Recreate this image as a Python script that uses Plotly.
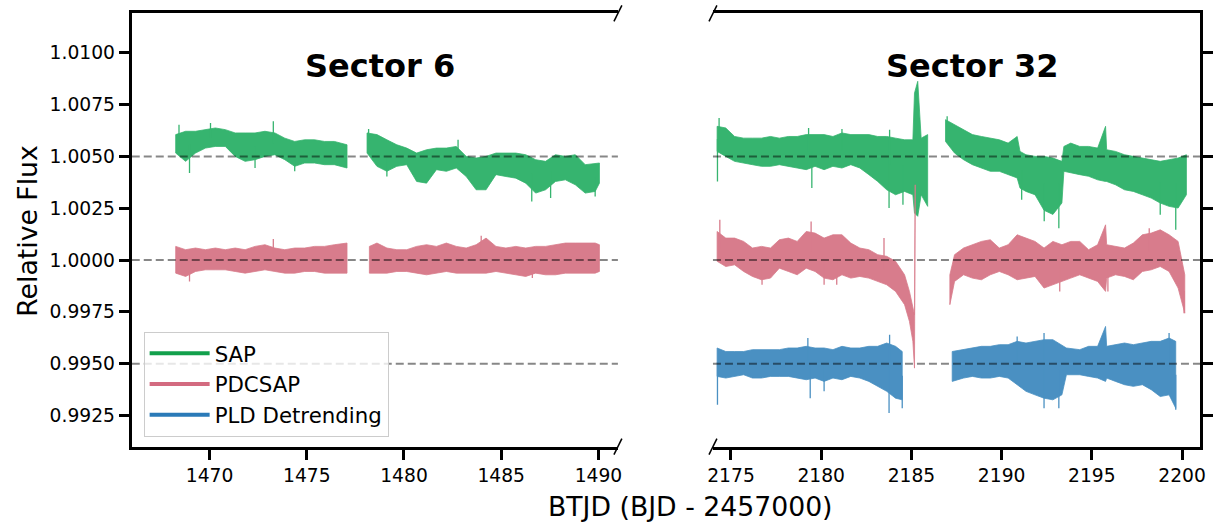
import numpy as np
import plotly.graph_objects as go

# ---------------- data ----------------
# Sector 6, first orbit  (envelope of the light curves)
t_s6_a = [1468.26, 1468.77, 1469.28, 1469.79, 1470.30, 1470.81, 1471.32, 1471.83, 1472.34,
          1472.85, 1473.36, 1473.87, 1474.38, 1474.89, 1475.40, 1475.91, 1476.42, 1477.07]
sap_s6_a_hi = [1.00605, 1.00621, 1.00621, 1.00629, 1.00637, 1.00629, 1.00613, 1.00613, 1.00613,
               1.00621, 1.00613, 1.00588, 1.00572, 1.00580, 1.00580, 1.00572, 1.00572, 1.00556]
sap_s6_a_lo = [1.00516, 1.00476, 1.00516, 1.00540, 1.00548, 1.00548, 1.00500, 1.00476, 1.00484,
               1.00500, 1.00508, 1.00484, 1.00452, 1.00468, 1.00468, 1.00460, 1.00460, 1.00444]
pdc_s6_a_hi = [1.00066, 1.00050, 1.00058, 1.00050, 1.00058, 1.00050, 1.00058, 1.00050, 1.00066,
               1.00074, 1.00058, 1.00050, 1.00058, 1.00058, 1.00066, 1.00066, 1.00074, 1.00082]
pdc_s6_a_lo = [0.99937, 0.99921, 0.99945, 0.99953, 0.99953, 0.99953, 0.99945, 0.99937, 0.99945,
               0.99953, 0.99945, 0.99937, 0.99937, 0.99945, 0.99945, 0.99937, 0.99937, 0.99937]

# Sector 6, second orbit
t_s6_b = [1478.10, 1478.61, 1479.12, 1479.63, 1480.14, 1480.65, 1481.16, 1481.67, 1482.18,
          1482.69, 1483.20, 1483.71, 1484.22, 1484.73, 1485.24, 1485.75, 1486.26, 1486.77,
          1487.28, 1487.79, 1488.30, 1488.81, 1489.32, 1489.83, 1490.05]
sap_s6_b_hi = [1.00613, 1.00605, 1.00580, 1.00556, 1.00540, 1.00516, 1.00532, 1.00540, 1.00540,
               1.00548, 1.00500, 1.00492, 1.00500, 1.00516, 1.00516, 1.00516, 1.00508, 1.00484,
               1.00476, 1.00508, 1.00500, 1.00508, 1.00460, 1.00468, 1.00468]
sap_s6_b_lo = [1.00516, 1.00452, 1.00428, 1.00452, 1.00460, 1.00379, 1.00371, 1.00436, 1.00428,
               1.00444, 1.00403, 1.00339, 1.00339, 1.00412, 1.00403, 1.00395, 1.00371, 1.00323,
               1.00339, 1.00379, 1.00387, 1.00363, 1.00323, 1.00331, 1.00371]
t_s6_b_pdc = [1478.22] + t_s6_b[1:]
pdc_s6_b_hi = [1.00066, 1.00082, 1.00058, 1.00050, 1.00050, 1.00066, 1.00074, 1.00066, 1.00082,
               1.00066, 1.00058, 1.00074, 1.00106, 1.00066, 1.00058, 1.00066, 1.00058, 1.00066,
               1.00066, 1.00074, 1.00082, 1.00082, 1.00082, 1.00082, 1.00074]
pdc_s6_b_lo = [0.99937, 0.99937, 0.99937, 0.99945, 0.99945, 0.99937, 0.99929, 0.99937, 0.99945,
               0.99937, 0.99937, 0.99937, 0.99937, 0.99945, 0.99937, 0.99929, 0.99921, 0.99937,
               0.99929, 0.99929, 0.99937, 0.99937, 0.99937, 0.99937, 0.99945]

# Sector 32, first orbit
t_s32_a = [2174.23, 2174.71, 2175.20, 2175.70, 2176.19, 2176.69, 2177.19, 2177.68, 2178.18,
           2178.67, 2179.17, 2179.66, 2180.16, 2180.65, 2181.15, 2181.64, 2182.14, 2182.64,
           2183.13, 2183.63, 2184.12, 2184.62, 2185.08, 2185.17, 2185.35, 2185.54, 2185.90]
sap_s32_a_hi = [1.00645, 1.00637, 1.00596, 1.00588, 1.00588, 1.00588, 1.00596, 1.00588, 1.00596,
                1.00596, 1.00605, 1.00605, 1.00605, 1.00596, 1.00613, 1.00605, 1.00605, 1.00605,
                1.00596, 1.00596, 1.00588, 1.00580, 1.00580, 1.00805, 1.00862, 1.00588, 1.00605]
sap_s32_a_lo = [1.00524, 1.00500, 1.00476, 1.00468, 1.00460, 1.00452, 1.00452, 1.00460, 1.00452,
                1.00444, 1.00436, 1.00452, 1.00436, 1.00452, 1.00444, 1.00460, 1.00444, 1.00412,
                1.00379, 1.00339, 1.00315, 1.00331, 1.00315, 1.00227, 1.00211, 1.00315, 1.00259]
t_s32_a_pdc = t_s32_a[:22] + [2184.89, 2185.08, 2185.17, 2185.21]
pdc_s32_a_hi = [1.00138, 1.00106, 1.00106, 1.00090, 1.00058, 1.00066, 1.00058, 1.00098, 1.00106,
                1.00090, 1.00138, 1.00130, 1.00106, 1.00122, 1.00122, 1.00082, 1.00058, 1.00050,
                1.00026, 1.00018, 0.99994, 0.99929, 0.99849, 0.99768, 0.99736, 1.00363]
pdc_s32_a_lo = [0.99994, 0.99969, 0.99977, 0.99945, 0.99921, 0.99905, 0.99913, 0.99961, 0.99945,
                0.99929, 0.99961, 0.99945, 0.99913, 0.99905, 0.99929, 0.99913, 0.99921, 0.99913,
                0.99897, 0.99881, 0.99849, 0.99785, 0.99704, 0.99608, 0.99479, 0.99511]
t_s32_a_pld = t_s32_a[:21] + [2184.49]
pld_s32_a_hi = [0.99576, 0.99559, 0.99559, 0.99559, 0.99568, 0.99568, 0.99568, 0.99568, 0.99576,
                0.99576, 0.99584, 0.99576, 0.99576, 0.99568, 0.99584, 0.99576, 0.99576, 0.99584,
                0.99584, 0.99600, 0.99584, 0.99559]
pld_s32_a_lo = [0.99439, 0.99431, 0.99439, 0.99447, 0.99431, 0.99431, 0.99439, 0.99439, 0.99439,
                0.99431, 0.99423, 0.99431, 0.99415, 0.99431, 0.99423, 0.99439, 0.99431, 0.99415,
                0.99391, 0.99367, 0.99334, 0.99326]

# Sector 32, second orbit
t_s32_b = [2186.89, 2187.39, 2187.89, 2188.38, 2188.88, 2189.37, 2189.87, 2190.36, 2190.86,
           2191.02, 2191.35, 2191.85, 2192.35, 2192.84, 2193.34, 2193.45, 2193.83, 2194.33,
           2194.82, 2195.32, 2195.76, 2195.82, 2196.31, 2196.81, 2197.30, 2197.80, 2198.29,
           2198.79, 2199.28, 2199.78, 2200.24]
sap_s32_b_hi = [1.00677, 1.00653, 1.00629, 1.00605, 1.00596, 1.00588, 1.00580, 1.00564, 1.00596,
                1.00524, 1.00508, 1.00500, 1.00500, 1.00492, 1.00476, 1.00548, 1.00564, 1.00548,
                1.00548, 1.00540, 1.00645, 1.00532, 1.00524, 1.00508, 1.00500, 1.00492, 1.00484,
                1.00476, 1.00484, 1.00492, 1.00508]
sap_s32_b_lo = [1.00572, 1.00516, 1.00484, 1.00460, 1.00444, 1.00428, 1.00428, 1.00412, 1.00396,
                1.00347, 1.00331, 1.00315, 1.00240, 1.00220, 1.00275, 1.00428, 1.00420, 1.00412,
                1.00404, 1.00387, 1.00379, 1.00379, 1.00363, 1.00339, 1.00331, 1.00315, 1.00299,
                1.00275, 1.00259, 1.00251, 1.00315]
t_s32_b_pdc = [2187.13, 2187.39, 2187.89, 2188.38, 2188.88, 2189.37, 2189.87, 2190.36, 2190.86,
               2191.35, 2191.85, 2192.35, 2192.84, 2193.34, 2193.83, 2194.33, 2194.82, 2195.32,
               2195.76, 2195.82, 2196.31, 2196.81, 2197.30, 2197.80, 2198.29, 2198.79, 2199.28,
               2199.78, 2200.15]
pdc_s32_b_hi = [0.99929, 1.00026, 1.00058, 1.00074, 1.00090, 1.00098, 1.00058, 1.00074, 1.00122,
                1.00106, 1.00090, 1.00058, 1.00090, 1.00074, 1.00090, 1.00090, 1.00050, 1.00074,
                1.00170, 1.00074, 1.00066, 1.00058, 1.00082, 1.00122, 1.00130, 1.00146, 1.00122,
                1.00090, 0.99929]
pdc_s32_b_lo = [0.99785, 0.99897, 0.99929, 0.99913, 0.99905, 0.99929, 0.99945, 0.99929, 0.99905,
                0.99913, 0.99921, 0.99865, 0.99881, 0.99897, 0.99913, 0.99929, 0.99913, 0.99897,
                0.99849, 0.99913, 0.99929, 0.99921, 0.99905, 0.99945, 0.99953, 0.99969, 0.99945,
                0.99865, 0.99744]
t_s32_b_pld = [2187.26, 2187.89, 2188.38, 2188.88, 2189.37, 2189.87, 2190.36, 2190.86, 2191.35,
               2191.85, 2192.35, 2192.84, 2193.34, 2193.59, 2194.33, 2194.82, 2195.32, 2195.76,
               2195.82, 2196.31, 2196.81, 2197.30, 2197.80, 2198.29, 2198.79, 2199.28, 2199.65]
pld_s32_b_hi = [0.99559, 0.99568, 0.99576, 0.99584, 0.99584, 0.99592, 0.99592, 0.99608, 0.99600,
                0.99608, 0.99616, 0.99616, 0.99592, 0.99576, 0.99568, 0.99584, 0.99584, 0.99680,
                0.99584, 0.99592, 0.99600, 0.99592, 0.99600, 0.99608, 0.99608, 0.99624, 0.99608]
pld_s32_b_lo = [0.99415, 0.99431, 0.99439, 0.99431, 0.99431, 0.99439, 0.99431, 0.99399, 0.99367,
                0.99350, 0.99334, 0.99326, 0.99350, 0.99447, 0.99447, 0.99439, 0.99431, 0.99415,
                0.99431, 0.99415, 0.99399, 0.99391, 0.99399, 0.99375, 0.99342, 0.99350, 0.99286]

# isolated outlier spikes (time, flux)
sap_s6_spk_t = [1468.43, 1470.05, 1473.28, 1468.97, 1472.34, 1474.38,
                1478.18, 1482.78, 1479.12, 1486.57, 1487.54, 1489.83]
sap_s6_spk_f = [1.00653, 1.00661, 1.00669, 1.00420, 1.00444, 1.00428,
                1.00632, 1.00580, 1.00403, 1.00283, 1.00299, 1.00307]
pdc_s6_spk_t = [1473.28, 1468.97, 1483.97, 1486.60]
pdc_s6_spk_f = [1.00101, 0.99897, 1.00117, 0.99913]
sap_s32_spk_t = [2174.34, 2179.30, 2181.15, 2183.79, 2174.25, 2179.48, 2183.76, 2184.53,
                 2186.98, 2191.11, 2192.36, 2193.17, 2198.79, 2199.65]
sap_s32_spk_f = [1.00685, 1.00637, 1.00632, 1.00629, 1.00379, 1.00347, 1.00251, 1.00267,
                 1.00693, 1.00291, 1.00187, 1.00154, 1.00219, 1.00146]
pdc_s32_spk_t = [2174.38, 2179.44, 2183.48, 2176.72, 2180.16, 2180.86,
                 2198.18, 2193.22, 2195.89, 2200.11]
pdc_s32_spk_f = [1.00195, 1.00186, 1.00106, 0.99881, 0.99881, 0.99881,
                 1.00154, 0.99849, 0.99849, 0.99744]
pld_s32_spk_t = [2179.26, 2183.79, 2174.25, 2179.39, 2180.16, 2183.76, 2184.49,
                 2190.86, 2192.35, 2199.28, 2192.35, 2193.17, 2199.65]
pld_s32_spk_f = [0.99624, 0.99640, 0.99302, 0.99334, 0.99367, 0.99262, 0.99286,
                 0.99632, 0.99648, 0.99648, 0.99286, 0.99286, 0.99278]

ytick_vals = [0.9925, 0.9950, 0.9975, 1.0000, 1.0025, 1.0050, 1.0075, 1.0100]
ytick_text = ["0.9925", "0.9950", "0.9975", "1.0000", "1.0025", "1.0050", "1.0075", "1.0100"]
xtick_s6 = [1470, 1475, 1480, 1485, 1490]
xtick_s32 = [2175, 2180, 2185, 2190, 2195, 2200]
ref_levels = [1.005, 1.000, 0.995]
series_names = ["SAP", "PDCSAP", "PLD Detrending"]

# ---------------- style ----------------
W, H = 1217, 525
FONT = "DejaVu Sans"
legend_colors = {"SAP": "#12a04c", "PDCSAP": "#d36b80", "PLD Detrending": "#2a7ab8"}
fill_colors = {"SAP": "#36b46f", "PDCSAP": "#d87c8c", "PLD Detrending": "#4a90c2"}


def px_x(x):
    return x / W


def px_y(y):
    return 1 - y / H


XL = (127, 618)
XR = (714, 1206)
YT, YB = 13.3, 446.7

fig = go.Figure()


def band(t, hi, lo, name, xa, ya):
    xs = list(t) + list(t)[::-1] + [t[0]]
    ys = list(hi) + list(lo)[::-1] + [hi[0]]
    fig.add_trace(go.Scatter(
        x=xs, y=ys, mode="lines", fill="toself",
        fillcolor=fill_colors[name],
        line=dict(color=fill_colors[name], width=0.8),
        xaxis=xa, yaxis=ya, showlegend=False, hoverinfo="skip"))


def spikes(st, sf, segments, name, xa, ya):
    """thin vertical outlier lines from the band middle out to the read flux."""
    xs, ys = [], []
    for tt, ff in zip(st, sf):
        for (t, hi, lo) in segments:
            if t[0] - 0.05 <= tt <= t[-1] + 0.05:
                mid = 0.5 * (np.interp(tt, t, hi) + np.interp(tt, t, lo))
                xs += [tt, tt, None]
                ys += [mid, ff, None]
                break
    fig.add_trace(go.Scatter(x=xs, y=ys, mode="lines",
                             line=dict(color=fill_colors[name], width=1.3),
                             xaxis=xa, yaxis=ya, showlegend=False, hoverinfo="skip"))


band(t_s6_a, sap_s6_a_hi, sap_s6_a_lo, "SAP", "x", "y")
band(t_s6_b, sap_s6_b_hi, sap_s6_b_lo, "SAP", "x", "y")
band(t_s6_a, pdc_s6_a_hi, pdc_s6_a_lo, "PDCSAP", "x", "y")
band(t_s6_b_pdc, pdc_s6_b_hi, pdc_s6_b_lo, "PDCSAP", "x", "y")
spikes(sap_s6_spk_t, sap_s6_spk_f,
       [(t_s6_a, sap_s6_a_hi, sap_s6_a_lo), (t_s6_b, sap_s6_b_hi, sap_s6_b_lo)], "SAP", "x", "y")
spikes(pdc_s6_spk_t, pdc_s6_spk_f,
       [(t_s6_a, pdc_s6_a_hi, pdc_s6_a_lo), (t_s6_b_pdc, pdc_s6_b_hi, pdc_s6_b_lo)],
       "PDCSAP", "x", "y")

band(t_s32_a, sap_s32_a_hi, sap_s32_a_lo, "SAP", "x2", "y2")
band(t_s32_b, sap_s32_b_hi, sap_s32_b_lo, "SAP", "x2", "y2")
band(t_s32_a_pdc, pdc_s32_a_hi, pdc_s32_a_lo, "PDCSAP", "x2", "y2")
band(t_s32_b_pdc, pdc_s32_b_hi, pdc_s32_b_lo, "PDCSAP", "x2", "y2")
band(t_s32_a_pld, pld_s32_a_hi, pld_s32_a_lo, "PLD Detrending", "x2", "y2")
band(t_s32_b_pld, pld_s32_b_hi, pld_s32_b_lo, "PLD Detrending", "x2", "y2")
spikes(sap_s32_spk_t, sap_s32_spk_f,
       [(t_s32_a, sap_s32_a_hi, sap_s32_a_lo), (t_s32_b, sap_s32_b_hi, sap_s32_b_lo)],
       "SAP", "x2", "y2")
spikes(pdc_s32_spk_t, pdc_s32_spk_f,
       [(t_s32_a_pdc, pdc_s32_a_hi, pdc_s32_a_lo), (t_s32_b_pdc, pdc_s32_b_hi, pdc_s32_b_lo)],
       "PDCSAP", "x2", "y2")
spikes(pld_s32_spk_t, pld_s32_spk_f,
       [(t_s32_a_pld, pld_s32_a_hi, pld_s32_a_lo), (t_s32_b_pld, pld_s32_b_hi, pld_s32_b_lo)],
       "PLD Detrending", "x2", "y2")

for name in series_names:
    fig.add_trace(go.Scatter(x=[None], y=[None], mode="lines", name=name,
                             line=dict(color=legend_colors[name], width=4),
                             xaxis="x", yaxis="y"))

shapes = []
for lvl in ref_levels:
    for xr, yr in (("x domain", "y"), ("x2 domain", "y2")):
        shapes.append(dict(type="line", xref=xr, yref=yr, x0=0, x1=1, y0=lvl, y1=lvl,
                           line=dict(color="rgba(0,0,0,0.47)", width=2, dash="8px,4px"),
                           layer="above"))
# axis-break diagonal marks
for xc in (XL[1], XR[0]):
    for yc in (YT, YB):
        shapes.append(dict(type="line", xref="paper", yref="paper",
                           x0=px_x(xc - 4), y0=px_y(yc + 8), x1=px_x(xc + 4), y1=px_y(yc - 8),
                           line=dict(color="black", width=1.5)))

axis_common = dict(showgrid=False, zeroline=False, showline=True, linecolor="black",
                   linewidth=3, ticks="outside", ticklen=10, tickwidth=2.5,
                   tickcolor="black", tickfont=dict(family=FONT, size=18.7, color="black"))


def label(text, x, y, size, angle=0):
    return dict(text=text, x=px_x(x), y=px_y(y), xref="paper", yref="paper",
                xanchor="center", yanchor="middle", showarrow=False, textangle=angle,
                font=dict(family=FONT, size=size, color="black"))


fig.update_layout(
    width=W, height=H,
    margin=dict(l=0, r=0, t=0, b=0),
    paper_bgcolor="white", plot_bgcolor="white",
    font=dict(family=FONT, color="black"),
    xaxis=dict(domain=[px_x(XL[0]), px_x(XL[1])], range=[1466, 1491], anchor="y",
               tickvals=xtick_s6, mirror=True, **axis_common),
    xaxis2=dict(domain=[px_x(XR[0]), px_x(XR[1])], range=[2174, 2201], anchor="y2",
                tickvals=xtick_s32, mirror=True, **axis_common),
    yaxis=dict(domain=[px_y(YB), px_y(YT)], range=[0.9910, 1.0119], anchor="x",
               tickvals=ytick_vals, ticktext=ytick_text, **axis_common),
    yaxis2=dict(domain=[px_y(YB), px_y(YT)], range=[0.9910, 1.0119], anchor="x2",
                side="right", tickvals=ytick_vals, showticklabels=False, **axis_common),
    shapes=shapes,
    showlegend=True,
    legend=dict(x=px_x(139), y=px_y(332), xanchor="left", yanchor="top",
                bgcolor="rgba(255,255,255,0.8)", bordercolor="#cccccc", borderwidth=1,
                font=dict(family=FONT, size=21.3, color="black"), itemwidth=60,
                tracegroupgap=0),
    annotations=[
        label("<b>Sector 6</b>", 378, 66, 32),
        label("<b>Sector 32</b>", 976, 66, 32),
        label("BTJD (BJD - 2457000)", 691, 506, 26.7),
        label("Relative Flux", 22, 231, 26.7, -90),
    ],
)

fig.write_html("out.html", config={"displayModeBar": False},
               post_script="document.body.style.margin='0';")
